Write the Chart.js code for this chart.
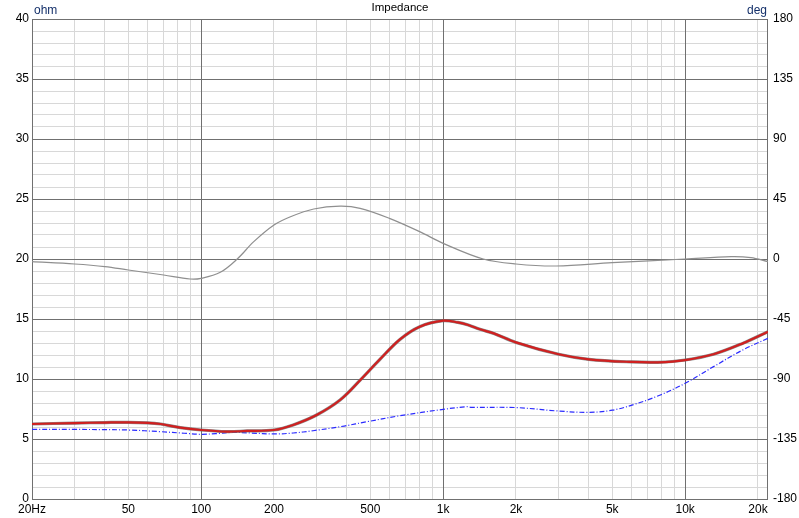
<!DOCTYPE html>
<html>
<head>
<meta charset="utf-8">
<script src="https://cdn.jsdelivr.net/npm/chart.js@4/dist/chart.umd.min.js"></script>
<style>
  html, body { margin: 0; padding: 0; background: #ffffff; }
  #wrap { width: 799px; height: 518px; position: relative; }
</style>
</head>
<body>
<div id="wrap"><canvas id="c" width="799" height="518"></canvas></div>
<script>
// ---- data ----
const impFreq = [20, 30, 40, 50, 60, 68, 82, 100, 127, 155, 200, 240, 300, 375, 454, 548, 663, 800, 1000, 1150, 1270, 1420, 1620, 2000, 3000, 4000, 6000, 7700, 10000, 13100, 17300, 22000];
const impOhm  = [6.25, 6.33, 6.37, 6.39, 6.35, 6.25, 5.95, 5.75, 5.62, 5.67, 5.75, 6.17, 7.0, 8.25, 9.9, 11.64, 13.3, 14.36, 14.86, 14.72, 14.5, 14.14, 13.8, 13.05, 12.06, 11.64, 11.42, 11.39, 11.58, 12.06, 12.97, 13.94];

const blueFreq = [20, 30, 40, 50, 68, 85, 100, 115, 135, 160, 200, 240, 290, 390, 484, 663, 1000, 1250, 1300, 2000, 3000, 4000, 5000, 6200, 7900, 10000, 13100, 17300, 22000];
const blueOhm  = [5.81, 5.8, 5.78, 5.75, 5.61, 5.48, 5.39, 5.45, 5.55, 5.5, 5.42, 5.5, 5.69, 6.08, 6.44, 6.94, 7.47, 7.69, 7.64, 7.62, 7.33, 7.22, 7.4, 7.9, 8.67, 9.64, 11.03, 12.42, 13.39];

const phaseFreq = [20, 30, 40, 50, 70, 90, 100, 120, 141, 165, 200, 234, 292, 375, 454, 600, 800, 1000, 1464, 2000, 2933, 5000, 10000, 15500, 18700, 22000];
const phaseDeg  = [-2, -3.75, -5.7, -8.25, -12, -15, -14.5, -10, 0, 13, 25.5, 31.7, 37.5, 39.6, 38, 30.5, 20.5, 11.75, 0, -3.75, -5.25, -2.75, 0, 1.75, 1, -2];

const xGridTicks = [20,30,40,50,60,70,80,90,100,200,300,400,500,600,700,800,900,1000,2000,3000,4000,5000,6000,7000,8000,9000,10000,20000];
const xLabels = {20:'20Hz',50:'50',100:'100',200:'200',500:'500',1000:'1k',2000:'2k',5000:'5k',10000:'10k',20000:'20k'};
const xMajor = [100, 1000, 10000];
const yMajor = [5, 10, 15, 20, 25, 30, 35];

const chartTitle = 'Impedance';
const leftUnit = 'ohm';
const rightUnit = 'deg';

// ---- build ----
const pts = (fs, vs) => fs.map((f, i) => ({x: f, y: vs[i]}));
const MAJOR = '#707070';
const MINOR = '#d8d8d8';
const FONT = {family: '"Liberation Sans", Arial, sans-serif', size: 12};

const framePlugin = {
  id: 'frame',
  beforeDatasetsDraw(chart) {
    const a = chart.chartArea, ctx = chart.ctx;
    const xs = chart.scales.x, ys = chart.scales.y;
    ctx.save();
    ctx.strokeStyle = MAJOR;
    ctx.lineWidth = 1;
    ctx.beginPath();
    xMajor.forEach(v => {
      const px = Math.round(xs.getPixelForValue(v)) + 0.5;
      ctx.moveTo(px, a.top); ctx.lineTo(px, a.bottom);
    });
    yMajor.forEach(v => {
      const py = Math.round(ys.getPixelForValue(v)) + 0.5;
      ctx.moveTo(a.left, py); ctx.lineTo(a.right, py);
    });
    ctx.stroke();
    const l = Math.round(a.left) + 0.5, t = Math.round(a.top) + 0.5;
    const r = Math.round(a.right) - 0.5, b = Math.round(a.bottom) + 0.5;
    ctx.strokeRect(l, t, r - l, b - t);
    ctx.restore();
  },
  afterDraw(chart) {
    const a = chart.chartArea, ctx = chart.ctx;
    ctx.save();
    ctx.font = '11.5px "Liberation Sans", Arial, sans-serif';
    ctx.fillStyle = '#000';
    ctx.textAlign = 'center';
    ctx.textBaseline = 'middle';
    ctx.fillText(chartTitle, (a.left + a.right) / 2, 8);
    ctx.fillStyle = '#14306a';
    ctx.font = '12px "Liberation Sans", Arial, sans-serif';
    ctx.textAlign = 'left';
    ctx.fillText(leftUnit, a.left + 2, 11);
    ctx.textAlign = 'right';
    ctx.fillText(rightUnit, a.right - 1, 11);
    ctx.restore();
  }
};

const lineBase = {pointRadius: 0, tension: 0.35};

new Chart(document.getElementById('c'), {
  type: 'line',
  data: {
    datasets: [
      Object.assign({
        label: 'Impedance',
        data: pts(impFreq, impOhm),
        yAxisID: 'y',
        borderColor: '#d02020',
        borderWidth: 2.2,
        order: 0
      }, lineBase),
      Object.assign({
        label: 'shadow',
        data: pts(impFreq, impOhm),
        yAxisID: 'y',
        borderColor: 'rgba(110,110,110,0.8)',
        borderWidth: 3.2,
        order: 1
      }, lineBase),
      Object.assign({
        label: 'Reference',
        data: pts(blueFreq, blueOhm),
        yAxisID: 'y',
        borderColor: '#2b2bff',
        borderWidth: 1.2,
        borderDash: [5, 2, 1, 2],
        order: 2
      }, lineBase),
      Object.assign({
        label: 'Phase',
        data: pts(phaseFreq, phaseDeg),
        yAxisID: 'y2',
        borderColor: '#8f8f8f',
        borderWidth: 1.2,
        order: 3
      }, lineBase)
    ]
  },
  options: {
    responsive: false,
    animation: false,
    events: [],
    layout: {padding: {top: 19, left: 0, right: 0, bottom: 0}},
    plugins: {legend: {display: false}, tooltip: {enabled: false}, title: {display: false}},
    scales: {
      x: {
        type: 'logarithmic',
        min: 20,
        max: 22000,
        afterBuildTicks(axis) { axis.ticks = xGridTicks.map(v => ({value: v})); },
        afterFit(axis) { axis.height = 19; },
        border: {display: false},
        grid: {
          drawTicks: false,
          tickLength: 0,
          color: ctx => (ctx.tick && xMajor.includes(ctx.tick.value)) ? MAJOR : MINOR,
          lineWidth: 1
        },
        ticks: {
          autoSkip: false,
          maxRotation: 0,
          padding: 3,
          color: '#000',
          font: FONT,
          callback: v => xLabels[v] || ''
        }
      },
      y: {
        type: 'linear',
        position: 'left',
        min: 0,
        max: 40,
        afterFit(axis) { axis.width = 32; },
        border: {display: false},
        grid: {
          drawTicks: false,
          tickLength: 0,
          color: ctx => (ctx.tick && ctx.tick.value % 5 === 0) ? MAJOR : MINOR,
          lineWidth: 1
        },
        ticks: {
          stepSize: 1,
          autoSkip: false,
          padding: 3,
          color: '#000',
          font: FONT,
          callback: v => (v % 5 === 0 ? String(v) : '')
        }
      },
      y2: {
        type: 'linear',
        position: 'right',
        min: -180,
        max: 180,
        afterFit(axis) { axis.width = 31; },
        border: {display: false},
        grid: {display: false, drawOnChartArea: false, drawTicks: false, tickLength: 0},
        ticks: {
          stepSize: 45,
          autoSkip: false,
          padding: 5,
          color: '#000',
          font: FONT
        }
      }
    }
  },
  plugins: [framePlugin]
});
</script>
</body>
</html>
